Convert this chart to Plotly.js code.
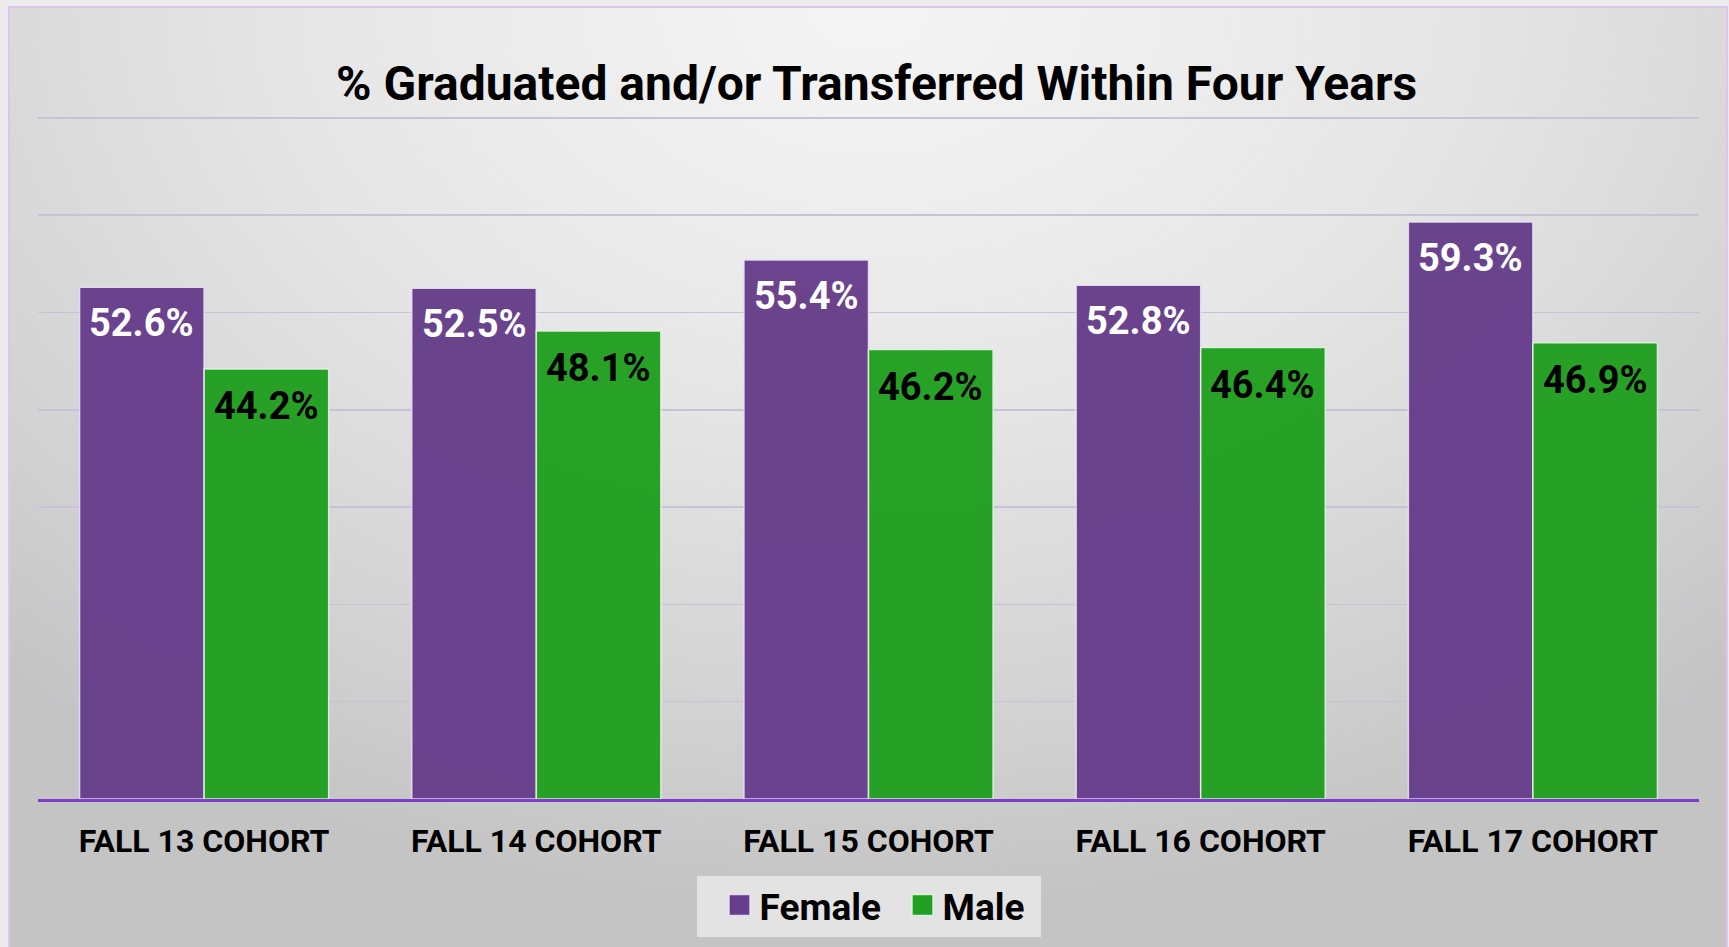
<!DOCTYPE html>
<html>
<head>
<meta charset="utf-8">
<script src="https://cdn.plot.ly/plotly-3.0.1.min.js"></script>
<style>
  html, body { margin: 0; padding: 0; width: 1729px; height: 947px; overflow: hidden; background: #ebebeb; }
  #panel { position: absolute; left: 8px; top: 6px; width: 1720px; height: 945px; box-sizing: border-box;
    border: 2px solid #dcc5f3; border-bottom: none;
    background: radial-gradient(ellipse 75% 95% at 50% 0%, #f5f5f5 0%, #e6e6e6 45%, #d2d2d2 80%, #c4c4c4 100%); }
  #chart { position: absolute; left: 0; top: 0; width: 1729px; height: 947px; }
</style>
</head>
<body>
<div id="panel"></div>
<div id="chart"></div>
<script>
const categories = ["FALL 13 COHORT", "FALL 14 COHORT", "FALL 15 COHORT", "FALL 16 COHORT", "FALL 17 COHORT"];
const female = [52.6, 52.5, 55.4, 52.8, 59.3];
const male = [44.2, 48.1, 46.2, 46.4, 46.9];
const seriesNames = ["Female", "Male"];
const titleText = "% Graduated and/or Transferred Within Four Years";

const fmt = v => v.toFixed(1) + "%";
const BARGAP = 0.25;
const barW = (1 - BARGAP) / 2;

const traces = [
  {
    type: "bar", name: seriesNames[0], x: categories, y: female,
    marker: { color: "#673e8b", opacity: 0.97, line: { color: "rgba(235,225,245,0.9)", width: 1.5 } },
    hoverinfo: "skip"
  },
  {
    type: "bar", name: seriesNames[1], x: categories, y: male,
    marker: { color: "#21a021", opacity: 0.97, line: { color: "rgba(225,245,225,0.9)", width: 1.5 } },
    hoverinfo: "skip"
  }
];

const annotations = [];
categories.forEach((c, i) => {
  annotations.push({
    xref: "x", yref: "y", x: i - barW / 2, y: female[i], text: fmt(female[i]),
    showarrow: false, xanchor: "center", yanchor: "middle", yshift: -36,
    font: { family: "Roboto", size: 38, color: "#ffffff", weight: 700 }
  });
  annotations.push({
    xref: "x", yref: "y", x: i + barW / 2, y: male[i], text: fmt(male[i]),
    showarrow: false, xanchor: "center", yanchor: "middle", yshift: -37,
    font: { family: "Roboto", size: 38, color: "#000000", weight: 700 }
  });
});

const layout = {
  width: 1729, height: 947,
  paper_bgcolor: "rgba(0,0,0,0)", plot_bgcolor: "rgba(0,0,0,0)",
  margin: { l: 38, r: 30, t: 116, b: 148, pad: 0, autoexpand: false },
  title: {
    text: titleText, x: 0.507, xanchor: "center", y: 0.912, yanchor: "middle",
    font: { family: "Roboto", size: 48, color: "#000000", weight: 700 }
  },
  barmode: "group", bargap: BARGAP, bargroupgap: 0,
  showlegend: true,
  legend: {
    orientation: "h", x: 0.4103, xanchor: "left", y: -0.156, yanchor: "middle",
    bgcolor: "rgba(0,0,0,0)", borderwidth: 0,
    font: { family: "Roboto", size: 37, color: "#000000", weight: 700 },
    itemwidth: 28, entrywidth: 138, entrywidthmode: "pixels", traceorder: "normal"
  },
  shapes: [{
    type: "rect", xref: "paper", yref: "paper", layer: "below",
    x0: 0.3968, x1: 0.6039, y0: -0.2020, y1: -0.1127,
    fillcolor: "#e3e3e3", line: { width: 0 }
  }],
  annotations: annotations,
  xaxis: {
    type: "category", showgrid: false, showline: true, linecolor: "#7e3fc6", linewidth: 3,
    ticks: "outside", ticklen: 12, tickcolor: "rgba(0,0,0,0)", automargin: false,
    tickfont: { family: "Roboto", size: 32, color: "#000000", weight: 700 },
    zeroline: false
  },
  yaxis: {
    range: [0, 70.2], tickvals: [10, 20, 30, 40, 50, 60, 70], showgrid: true, gridcolor: "#c9c1d4", gridwidth: 1.5,
    showticklabels: false, zeroline: false, showline: false, ticks: "", automargin: false
  },
  font: { family: "Roboto" }
};

Plotly.newPlot("chart", traces, layout, { displayModeBar: false, staticPlot: true }).then(gd => {
  gd.querySelectorAll(".legend .legendpoints path").forEach(p => {
    p.setAttribute("d", "M10.5,10.5H-10.5V-10.5H10.5Z");
  });
});
</script>
</body>
</html>
